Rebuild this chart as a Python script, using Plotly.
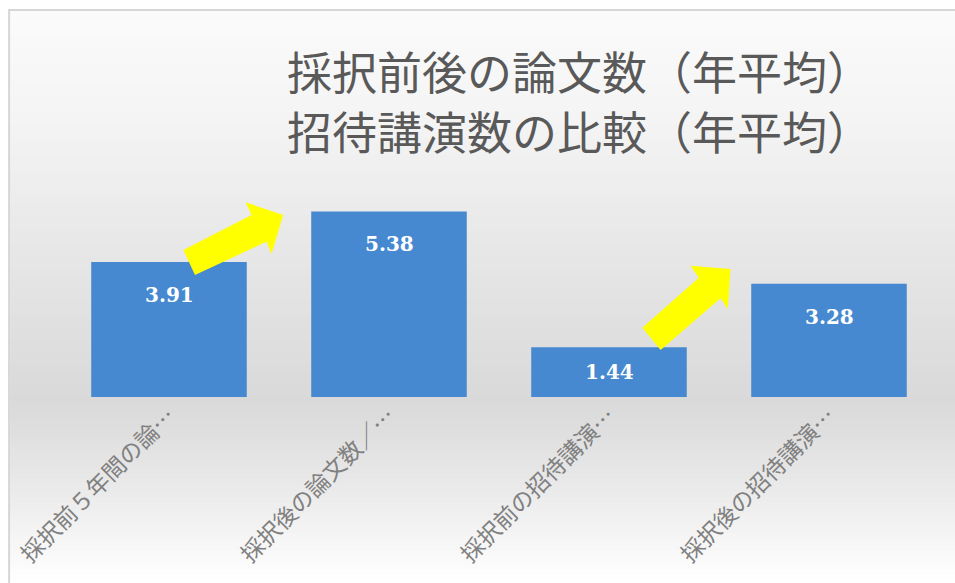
import plotly.graph_objects as go

categories = ["採択前５年間の論…", "採択後の論文数／…", "採択前の招待講演…", "採択後の招待講演…"]
values = [3.91, 5.38, 1.44, 3.28]
title_lines = ["採択前後の論文数（年平均）", "招待講演数の比較（年平均）"]

W, H = 955, 583
L, R, T, B = 57, 16, 190, 186
PW, PH = W - L - R, H - T - B
YMAX = 6.0


def px(x):
    return (x - L) / PW


def py(y):
    return (H - B - y) / PH


fig = go.Figure()
fig.add_trace(go.Bar(
    x=categories, y=values,
    marker=dict(color="#4689d0", line=dict(width=0)),
    hoverinfo="x+y",
))

shapes = []
# background gradient
stops = [(11, 251), (120, 244), (250, 231), (400, 217), (470, 230), (583, 255)]


def shade(y):
    for (y0, c0), (y1, c1) in zip(stops[:-1], stops[1:]):
        if y0 <= y <= y1:
            return c0 + (c1 - c0) * (y - y0) / (y1 - y0)
    return 255


step = 6
y = 11
while y < 583:
    c = int(round(shade(y + step / 2)))
    col = f"rgb({c},{c},{c})"
    shapes.append(dict(type="rect", xref="paper", yref="paper", layer="below",
                       x0=px(8), x1=px(960), y0=py(y), y1=py(min(y + step, 590)),
                       fillcolor=col, line=dict(width=0)))
    y += step
# frame
shapes.append(dict(type="rect", xref="paper", yref="paper", layer="below",
                   x0=px(7), x1=px(965), y0=py(10), y1=py(600),
                   fillcolor="rgba(0,0,0,0)", line=dict(color="#d6d6d6", width=2)))


def arrow(points):
    p = "M " + " L ".join(f"{px(a):.5f},{py(b):.5f}" for a, b in points) + " Z"
    return dict(type="path", xref="paper", yref="paper", path=p, layer="above",
                fillcolor="#ffff00", line=dict(width=0))


shapes.append(arrow([(181.7, 250), (193.3, 275), (265, 241.7), (270, 254),
                     (281.7, 215), (244, 202.3), (250, 215)]))
shapes.append(arrow([(641.7, 327.7), (660, 350), (720, 298.3), (727.3, 309),
                     (730, 269), (690, 265.7), (698.3, 277.7)]))

annotations = []
ppu = PH / YMAX
for cat, v in zip(categories, values):
    annotations.append(dict(x=cat, y=v, xref="x", yref="y", text=f"<b>{v:.2f}</b>",
                            showarrow=False, yanchor="middle",
                            yshift=-min(33, v * ppu / 2),
                            font=dict(family="DejaVu Serif", size=20, color="white")))
for i, line in enumerate(title_lines):
    annotations.append(dict(x=px(579), y=py(70 + 60 * i), xref="paper", yref="paper",
                            text=line, showarrow=False, xanchor="center", yanchor="middle",
                            font=dict(family="Noto Sans CJK JP", size=45, color="#595959")))

fig.update_layout(
    width=W, height=H,
    margin=dict(l=L, r=R, t=T, b=B, pad=0),
    paper_bgcolor="white", plot_bgcolor="rgba(0,0,0,0)",
    bargap=0.293,
    showlegend=False,
    shapes=shapes,
    annotations=annotations,
    xaxis=dict(showgrid=False, showline=False, zeroline=False, ticks="",
               tickangle=-45, tickfont=dict(family="Noto Sans CJK JP", size=23, color="#808080")),
    yaxis=dict(range=[0, YMAX], showgrid=False, showline=False, zeroline=False,
               showticklabels=False, ticks=""),
)

fig.write_html("out.html")
